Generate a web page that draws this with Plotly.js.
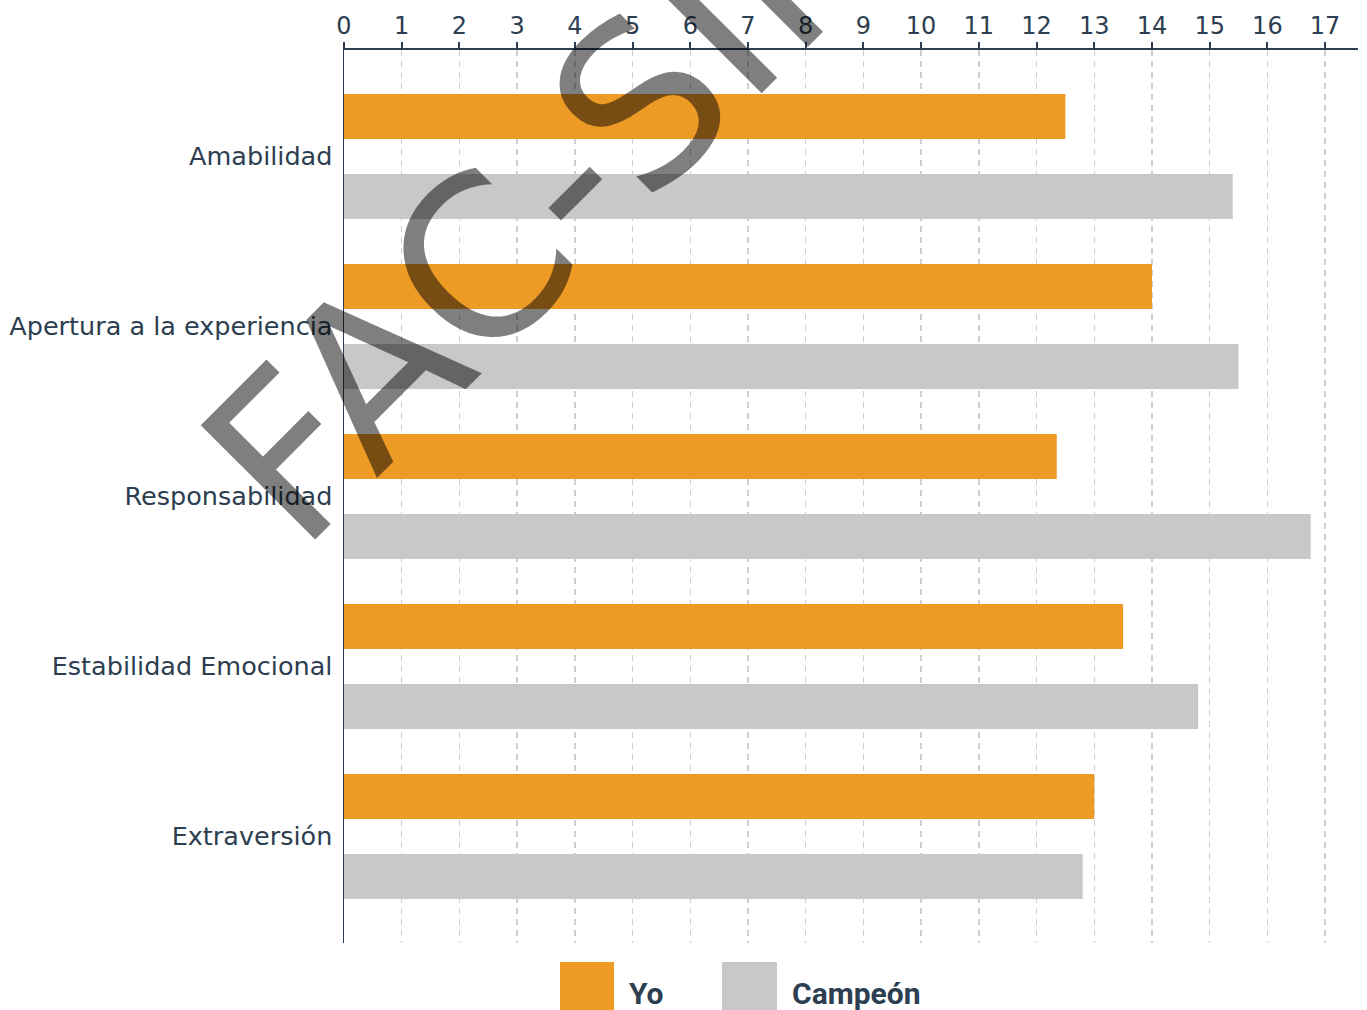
<!DOCTYPE html>
<html>
<head>
<meta charset="utf-8">
<script src="https://cdn.plot.ly/plotly-3.0.1.min.js"></script>
<style>
  html, body { margin: 0; padding: 0; background: #fff; }
  #chart { width: 1367px; height: 1010px; }
</style>
</head>
<body>
<div id="chart"></div>
<script>
// ---- data ----
var categories = ['Amabilidad', 'Apertura a la experiencia', 'Responsabilidad', 'Estabilidad Emocional', 'Extraversión'];
var yoValues = [12.5, 14.0, 12.35, 13.5, 13.0];
var campeonValues = [15.4, 15.5, 16.75, 14.8, 12.8];
var seriesNames = ['Yo', 'Campeón'];
var xTickVals = [0,1,2,3,4,5,6,7,8,9,10,11,12,13,14,15,16,17];
var watermarkText = 'FAC-SIMILE';

// ---- style ----
var W = 1367, H = 1010;
var M = { l: 344, r: 9, t: 50, b: 67 };
var textColor = '#2c3e50';
var orange = '#EE9B26';
var gray = '#C8C8C8';

function px2x(px) { return (px - M.l) / (W - M.l - M.r); }
function px2y(py) { return 1 - (py - M.t) / (H - M.t - M.b); }

var traces = [
  {
    type: 'bar', orientation: 'h', name: seriesNames[0],
    y: categories, x: yoValues,
    marker: { color: orange, line: { width: 0 } },
    width: 0.2647, offset: -0.3647,
    hoverinfo: 'skip', showlegend: false
  },
  {
    type: 'bar', orientation: 'h', name: seriesNames[1],
    y: categories, x: campeonValues,
    marker: { color: gray, line: { width: 0 } },
    width: 0.2647, offset: 0.1059,
    hoverinfo: 'skip', showlegend: false
  }
];

var legendShapes = [
  { type: 'rect', xref: 'paper', yref: 'paper', x0: px2x(560), x1: px2x(614), y0: px2y(962), y1: px2y(1012), fillcolor: orange, line: { width: 0 }, layer: 'above' },
  { type: 'rect', xref: 'paper', yref: 'paper', x0: px2x(722), x1: px2x(777), y0: px2y(962), y1: px2y(1012), fillcolor: gray, line: { width: 0 }, layer: 'above' }
];

var annotations = [
  { xref: 'paper', yref: 'paper', x: px2x(627), y: px2y(993), xanchor: 'left', yanchor: 'middle',
    text: '<b>' + seriesNames[0] + '</b>', showarrow: false,
    font: { family: 'Roboto', size: 30, color: textColor } },
  { xref: 'paper', yref: 'paper', x: px2x(790), y: px2y(993), xanchor: 'left', yanchor: 'middle',
    text: '<b>' + seriesNames[1] + '</b>', showarrow: false,
    font: { family: 'Roboto', size: 30, color: textColor } },
  { xref: 'paper', yref: 'paper', x: px2x(676), y: px2y(70), xanchor: 'center', yanchor: 'middle',
    text: watermarkText, showarrow: false, textangle: -45,
    font: { family: 'DejaVu Sans', size: 222, color: 'rgba(0,0,0,0.5)' } }
];

var layout = {
  width: W, height: H,
  margin: M,
  paper_bgcolor: '#fff', plot_bgcolor: '#fff',
  barmode: 'overlay',
  showlegend: false,
  hovermode: false,
  xaxis: {
    side: 'top',
    range: [0, 17.57],
    tickvals: xTickVals,
    ticktext: xTickVals.map(String),
    ticks: 'outside', ticklen: 6, tickwidth: 2, tickcolor: textColor,
    showline: true, linewidth: 2, linecolor: textColor,
    showgrid: true, gridcolor: '#CFCFCF', gridwidth: 1.5, griddash: '6px,5px',
    zeroline: false,
    ticklabelstandoff: -2,
    tickfont: { family: 'DejaVu Sans', size: 24, color: textColor },
    fixedrange: true
  },
  yaxis: {
    type: 'category',
    categoryorder: 'array', categoryarray: categories,
    range: [4.629, -0.6235],
    showline: true, linewidth: 1.5, linecolor: textColor,
    showgrid: false, zeroline: false,
    ticks: '',
    ticklabelstandoff: 5,
    tickfont: { family: 'DejaVu Sans', size: 25.5, color: textColor },
    fixedrange: true
  },
  shapes: legendShapes,
  annotations: annotations
};

Plotly.newPlot('chart', traces, layout, { displayModeBar: false, staticPlot: true });
</script>
</body>
</html>
